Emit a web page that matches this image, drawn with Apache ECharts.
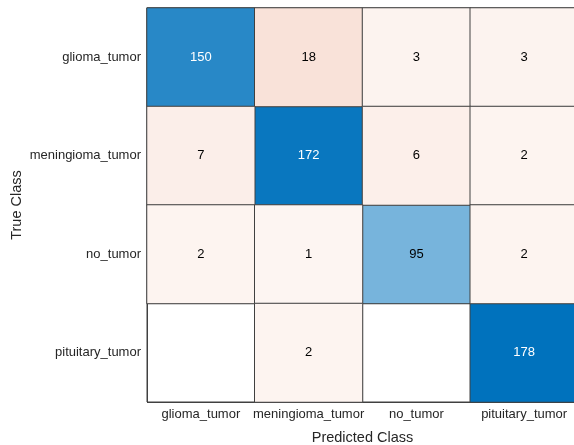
<!DOCTYPE html>
<html>
<head>
<meta charset="utf-8">
<script src="https://cdn.jsdelivr.net/npm/echarts@6/dist/echarts.min.js"></script>
<style>
  html, body { margin: 0; padding: 0; background: #fff; }
  #chart { width: 574px; height: 445px; }
</style>
</head>
<body>
<div id="chart"></div>
<script>
// Class names shared by both axes
const classes = ['glioma_tumor', 'meningioma_tumor', 'no_tumor', 'pituitary_tumor'];

// Confusion counts, one row per true class (columns = predicted class)
const rowGlioma     = [150, 18, 3, 3];
const rowMeningioma = [7, 172, 6, 2];
const rowNoTumor    = [2, 1, 95, 2];
const rowPituitary  = [0, 2, 0, 178];
const counts = [rowGlioma, rowMeningioma, rowNoTumor, rowPituitary];

// Split into correct (diagonal) and misclassified (off-diagonal) cells; zero cells stay blank
const diagCells = [];
const offCells = [];
counts.forEach((row, r) => {
  row.forEach((v, c) => {
    if (v === 0) return;
    (r === c ? diagCells : offCells).push([c, r, v]);
  });
});
const maxCount = Math.max(...diagCells.map(d => d[2]));

const font = '"Liberation Sans", Arial, Helvetica, sans-serif';
const chart = echarts.init(document.getElementById('chart'), null, { renderer: 'canvas' });

const cellStyle = { borderColor: '#404040', borderWidth: 1 };
const valueLabel = { show: true, fontFamily: font, fontSize: 13, formatter: p => String(p.value[2]) };

chart.setOption({
  animation: false,
  grid: {
    left: 147, top: 8, width: 431, height: 394,
    outerBoundsMode: 'none', containLabel: false,
    show: true, borderColor: '#404040', borderWidth: 1
  },
  xAxis: {
    type: 'category',
    data: classes,
    position: 'bottom',
    name: 'Predicted Class',
    nameLocation: 'middle',
    nameGap: 28,
    nameMoveOverlap: false,
    nameTextStyle: { fontFamily: font, fontSize: 14.5, color: '#262626' },
    axisLine: { show: false },
    axisTick: { show: false },
    axisLabel: { fontFamily: font, fontSize: 13, color: '#262626', margin: 6, interval: 0 },
    splitLine: { show: true, interval: 0, lineStyle: { color: '#404040', width: 1 } }
  },
  yAxis: {
    type: 'category',
    data: classes,
    inverse: true,
    name: 'True Class',
    nameLocation: 'middle',
    nameGap: 123,
    nameMoveOverlap: false,
    nameTextStyle: { fontFamily: font, fontSize: 14.5, color: '#262626' },
    axisLine: { show: false },
    axisTick: { show: false },
    axisLabel: { fontFamily: font, fontSize: 13, color: '#262626', margin: 6, interval: 0 },
    splitLine: { show: true, interval: 0, lineStyle: { color: '#404040', width: 1 } }
  },
  visualMap: [
    {
      show: false, seriesIndex: 0, dimension: 2,
      min: 0, max: maxCount,
      inRange: { color: ['#ffffff', '#0072BD'] }
    },
    {
      show: false, seriesIndex: 1, dimension: 2,
      min: 0, max: 150,
      inRange: { color: ['#FDF6F3', '#D95319'] }
    }
  ],
  series: [
    {
      type: 'heatmap',
      itemStyle: cellStyle,
      label: valueLabel,
      // Dark text on the lighter diagonal cells, white on the saturated ones
      data: diagCells.map(d => ({
        value: d,
        label: { color: d[2] / maxCount > 0.6 ? '#ffffff' : '#000000' }
      }))
    },
    {
      type: 'heatmap',
      data: offCells,
      itemStyle: cellStyle,
      label: Object.assign({ color: '#000000' }, valueLabel)
    }
  ]
});
</script>
</body>
</html>
